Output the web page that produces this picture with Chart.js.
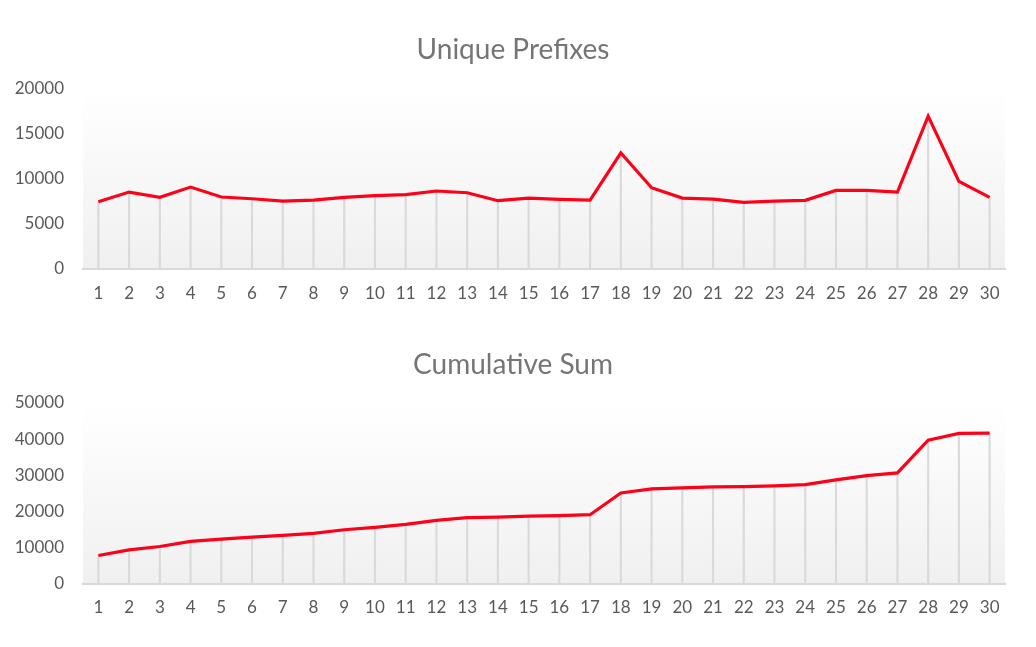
<!DOCTYPE html>
<html>
<head>
<meta charset="utf-8">
<script src="https://cdn.jsdelivr.net/npm/chart.js@4.4.1/dist/chart.umd.min.js"></script>
<style>
  html, body { margin: 0; padding: 0; background: #fff; }
  .box { position: absolute; left: 0; width: 1036px; }
  #top { top: 0; height: 320px; }
  #bottom { top: 320px; height: 327px; }
</style>
</head>
<body>
<div class="box" id="top"><canvas id="prefixChart"></canvas></div>
<div class="box" id="bottom"><canvas id="sumChart"></canvas></div>
<script>
const days = ['1','2','3','4','5','6','7','8','9','10','11','12','13','14','15',
              '16','17','18','19','20','21','22','23','24','25','26','27','28','29','30'];

const uniquePrefixes = [7450, 8520, 7930, 9080, 7970, 7780, 7520, 7630, 7930, 8120,
                        8230, 8640, 8450, 7560, 7850, 7710, 7630, 12880, 9010, 7850,
                        7740, 7370, 7520, 7600, 8710, 8710, 8520, 16980, 9720, 7930];

const cumulativeSum = [7780, 9350, 10280, 11670, 12310, 12870, 13330, 13890, 14910, 15560,
                       16390, 17500, 18240, 18430, 18700, 18800, 19070, 25090, 26200, 26480,
                       26760, 26850, 27040, 27410, 28700, 29910, 30650, 39720, 41580, 41670];

const prefixTicks = { max: 20000, step: 5000 };
const sumTicks = { max: 50000, step: 10000 };

const fontFamily = 'Lato, "Open Sans", sans-serif';

// soft gradient behind the plot area, like the excel chart
const plotBackground = {
    id: 'plotBackground',
    beforeDraw(chart) {
        const { ctx, chartArea } = chart;
        const grad = ctx.createLinearGradient(0, chartArea.top, 0, chartArea.bottom);
        grad.addColorStop(0, '#ffffff');
        grad.addColorStop(1, '#f0f0f0');
        ctx.save();
        ctx.fillStyle = grad;
        ctx.fillRect(chartArea.left, chartArea.top, chartArea.right - chartArea.left, chartArea.bottom - chartArea.top);
        ctx.restore();
    }
};

// center the title a bit to the right, over the whole chart box
const titleShift = {
    id: 'titleShift',
    afterLayout(chart) {
        if (chart.titleBlock) {
            chart.titleBlock.left = 0;
            chart.titleBlock.right = 1026;
            chart.titleBlock.width = 1026;
        }
    }
};

function makeChart(canvasId, title, values, ticks, pad) {
    const ctx = document.getElementById(canvasId).getContext('2d');
    return new Chart(ctx, {
        data: {
            labels: days,
            datasets: [{
                type: 'line',
                data: values,
                borderColor: '#ff0019',
                borderWidth: 3.2,
                pointRadius: 0,
                tension: 0,
                order: 0
            }, {
                // drop lines from each point to the axis
                type: 'bar',
                data: values,
                backgroundColor: '#dadada',
                barThickness: 1.5,
                order: 1
            }]
        },
        options: {
            responsive: true,
            maintainAspectRatio: false,
            animation: false,
            layout: { padding: { left: 0, right: 31, top: 0, bottom: pad.bottom } },
            plugins: {
                legend: { display: false },
                tooltip: { enabled: false },
                title: {
                    display: true,
                    text: title,
                    color: '#757575',
                    font: { family: fontFamily, size: 28, weight: 'normal' },
                    padding: { top: pad.titleTop, bottom: pad.titleBottom }
                }
            },
            scales: {
                x: {
                    offset: true,
                    grid: { display: false, drawTicks: false },
                    border: { display: true, color: '#d9d9d9', width: 2 },
                    ticks: {
                        color: '#595959',
                        padding: pad.xTick,
                        maxRotation: 0,
                        autoSkip: false,
                        font: { family: fontFamily, size: 17 }
                    }
                },
                y: {
                    min: 0,
                    max: ticks.max,
                    grid: { display: false, drawTicks: false },
                    border: { display: false },
                    ticks: {
                        stepSize: ticks.step,
                        color: '#595959',
                        padding: 19,
                        font: { family: fontFamily, size: 17 },
                        callback: v => String(v)
                    },
                    afterFit(scale) { scale.width = 83; }
                }
            }
        },
        plugins: [plotBackground, titleShift]
    });
}

makeChart('prefixChart', 'Unique Prefixes', uniquePrefixes, prefixTicks,
          { titleTop: 33.2, titleBottom: 22.2, xTick: 15, bottom: 1 });
makeChart('sumChart', 'Cumulative Sum', cumulativeSum, sumTicks,
          { titleTop: 28.2, titleBottom: 21.2, xTick: 14, bottom: 15 });
</script>
</body>
</html>
